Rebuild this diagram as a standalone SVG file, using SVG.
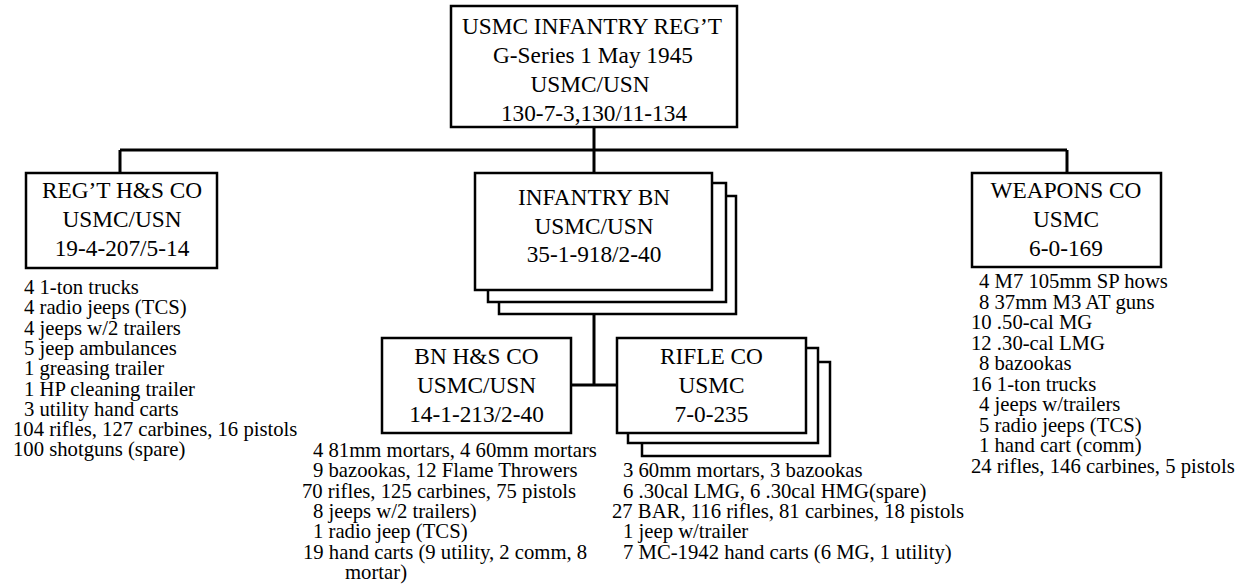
<svg xmlns="http://www.w3.org/2000/svg" width="1245" height="586" viewBox="0 0 1245 586">
<style>
.box{fill:#fff;stroke:#000;stroke-width:2.5}
.conn{fill:none;stroke:#000;stroke-width:3}
text{font-family:'Liberation Serif','Times New Roman',Times,serif;fill:#000}
.t{font-size:23.3px;text-anchor:middle}
.l{font-size:20.7px}
</style>
<rect width="1245" height="586" fill="#fff"/>
<g id="connectors">
<path class="conn" d="M594,127 V150 M120,150 H1067 M120,150 V173 M1067,150 V173 M594,150 V173"/>
<path class="conn" d="M594,314 V385 M571,385 H617"/>
</g>
<g id="regiment" font-family="Liberation Serif, serif">
<rect class="box" x="451" y="6" width="286" height="121"/>
<text class="t" x="592" y="34">USMC INFANTRY REG’T</text>
<text class="t" x="593" y="63">G-Series 1 May 1945</text>
<text class="t" x="590" y="92">USMC/USN</text>
<text class="t" x="594" y="121">130-7-3,130/11-134</text>
</g>
<g id="regt-hs-co">
<rect class="box" x="26" y="173" width="191" height="95"/>
<text class="t" x="122" y="198">REG’T H&amp;S CO</text>
<text class="t" x="122" y="227">USMC/USN</text>
<text class="t" x="122" y="256">19-4-207/5-14</text>
<text class="l" x="24" y="294">4 1-ton trucks</text>
<text class="l" x="24" y="314.3">4 radio jeeps (TCS)</text>
<text class="l" x="24" y="334.6">4 jeeps w/2 trailers</text>
<text class="l" x="24" y="354.9">5 jeep ambulances</text>
<text class="l" x="24" y="375.2">1 greasing trailer</text>
<text class="l" x="24" y="395.5">1 HP cleaning trailer</text>
<text class="l" x="24" y="415.8">3 utility hand carts</text>
<text class="l" x="13" y="436.1">104 rifles, 127 carbines, 16 pistols</text>
<text class="l" x="13" y="456.4">100 shotguns (spare)</text>
</g>
<g id="infantry-bn">
<rect class="box" x="499" y="196" width="237" height="118"/>
<rect class="box" x="488" y="183" width="238" height="119"/>
<rect class="box" x="475" y="173" width="237" height="117"/>
<text class="t" x="594" y="205">INFANTRY BN</text>
<text class="t" x="594" y="234">USMC/USN</text>
<text class="t" x="594" y="262">35-1-918/2-40</text>
</g>
<g id="bn-hs-co">
<rect class="box" x="382" y="338" width="189" height="95"/>
<text class="t" x="476.5" y="364">BN H&amp;S CO</text>
<text class="t" x="476.5" y="393">USMC/USN</text>
<text class="t" x="476.5" y="422">14-1-213/2-40</text>
<text class="l" x="313" y="457">4 81mm mortars, 4 60mm mortars</text>
<text class="l" x="313" y="477.3">9 bazookas, 12 Flame Throwers</text>
<text class="l" x="302" y="497.6">70 rifles, 125 carbines, 75 pistols</text>
<text class="l" x="313" y="517.9">8 jeeps w/2 trailers)</text>
<text class="l" x="313" y="538.2">1 radio jeep (TCS)</text>
<text class="l" x="303" y="558.5">19 hand carts (9 utility, 2 comm, 8</text>
<text class="l" x="345" y="578.8">mortar)</text>
</g>
<g id="rifle-co">
<rect class="box" x="642" y="362" width="188" height="94"/>
<rect class="box" x="628" y="348" width="190" height="95"/>
<rect class="box" x="617" y="338" width="189" height="95"/>
<text class="t" x="711.5" y="364">RIFLE CO</text>
<text class="t" x="711.5" y="393">USMC</text>
<text class="t" x="711.5" y="422">7-0-235</text>
<text class="l" x="623" y="477.3">3 60mm mortars, 3 bazookas</text>
<text class="l" x="623" y="497.6">6 .30cal LMG, 6 .30cal HMG(spare)</text>
<text class="l" x="612" y="517.9">27 BAR, 116 rifles, 81 carbines, 18 pistols</text>
<text class="l" x="623" y="538.2">1 jeep w/trailer</text>
<text class="l" x="623" y="558.5">7 MC-1942 hand carts (6 MG, 1 utility)</text>
</g>
<g id="weapons-co">
<rect class="box" x="972" y="173" width="189" height="94"/>
<text class="t" x="1066" y="198">WEAPONS CO</text>
<text class="t" x="1066" y="227">USMC</text>
<text class="t" x="1066" y="256">6-0-169</text>
<text class="l" x="979" y="288">4 M7 105mm SP hows</text>
<text class="l" x="979" y="308.5">8 37mm M3 AT guns</text>
<text class="l" x="971" y="329">10 .50-cal MG</text>
<text class="l" x="971" y="349.5">12 .30-cal LMG</text>
<text class="l" x="979" y="370">8 bazookas</text>
<text class="l" x="971" y="390.5">16 1-ton trucks</text>
<text class="l" x="979" y="411">4 jeeps w/trailers</text>
<text class="l" x="979" y="431.5">5 radio jeeps (TCS)</text>
<text class="l" x="979" y="452">1 hand cart (comm)</text>
<text class="l" x="971" y="472.5">24 rifles, 146 carbines, 5 pistols</text>
</g>
</svg>
